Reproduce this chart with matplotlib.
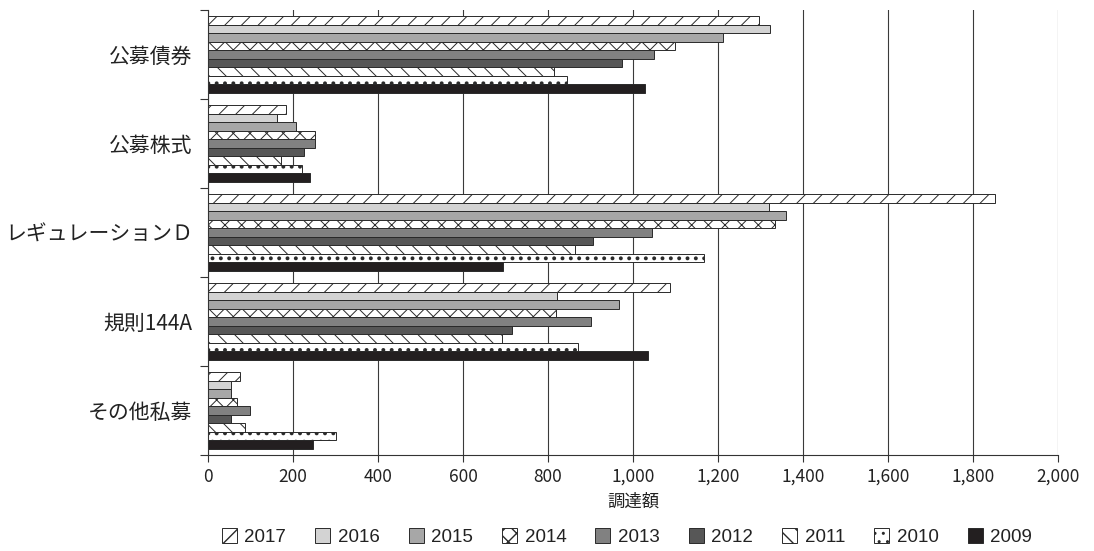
import matplotlib
matplotlib.use("Agg")
import matplotlib.pyplot as plt
from matplotlib.ticker import FuncFormatter

# Funding amount by offering type, 2009-2017
categories = ["公募債券", "公募株式", "レギュレーションＤ", "規則144A", "その他私募"]
years = ["2017", "2016", "2015", "2014", "2013", "2012", "2011", "2010", "2009"]

v2017 = [1297, 184, 1852, 1086, 76]
v2016 = [1322, 162, 1320, 821, 54]
v2015 = [1211, 206, 1361, 966, 54]
v2014 = [1098, 252, 1334, 818, 68]
v2013 = [1050, 252, 1044, 901, 99]
v2012 = [974, 226, 905, 715, 54]
v2011 = [814, 172, 863, 692, 86]
v2010 = [844, 221, 1166, 871, 301]
v2009 = [1028, 239, 693, 1036, 248]

series = [v2017, v2016, v2015, v2014, v2013, v2012, v2011, v2010, v2009]

x_ticks = [0, 200, 400, 600, 800, 1000, 1200, 1400, 1600, 1800, 2000]
x_label = "調達額"

# fill / hatch for each year (hatch line width in points)
styles = [
    dict(color="white", hatch="//", hlw=0.7),
    dict(color="#d3d3d3", hatch=None, hlw=0.7),
    dict(color="#a7a7a7", hatch=None, hlw=0.7),
    dict(color="white", hatch="xx", hlw=0.7),
    dict(color="#818181", hatch=None, hlw=0.7),
    dict(color="#575757", hatch=None, hlw=0.7),
    dict(color="white", hatch="\\\\", hlw=0.7),
    dict(color="white", hatch="..", hlw=1.6),
    dict(color="#231f20", hatch=None, hlw=0.7),
]

plt.rcParams["hatch.color"] = "#2a2a2a"
jp_font = ["Noto Sans CJK JP", "DejaVu Sans"]
plt.rcParams["font.family"] = jp_font

W, H = 1094, 551
fig = plt.figure(figsize=(W / 100, H / 100), dpi=100)
ax = fig.add_axes([208 / W, 1 - 455 / H, 850 / W, 445 / H])

n = len(series)
group = 0.86
h = group / n
for j, (vals, st, yr) in enumerate(zip(series, styles, years)):
    ys = [i + (j - (n - 1) / 2) * h for i in range(len(categories))]
    with plt.rc_context({"hatch.linewidth": st["hlw"]}):
        ax.barh(ys, vals, height=h, color=st["color"], hatch=st["hatch"],
                edgecolor="#2a2a2a", linewidth=0.7, label=yr, zorder=2)

ax.set_xlim(0, 2000)
ax.set_ylim(len(categories) - 0.5, -0.5)

ax.set_xticks(x_ticks)
ax.xaxis.set_major_formatter(FuncFormatter(lambda v, p: f"{int(v):,}"))
ax.tick_params(axis="x", length=5, width=0.8, color="#333333", pad=4,
               labelsize=12.5, labelcolor="#222222")

ax.set_yticks([i - 0.5 for i in range(len(categories) + 1)])
ax.set_yticklabels([])
ax.tick_params(axis="y", which="major", length=6, width=0.8, color="#333333")
ax.set_yticks(range(len(categories)), minor=True)
ax.set_yticklabels(categories, minor=True)
ax.tick_params(axis="y", which="minor", length=0, pad=11, labelsize=15,
               labelcolor="#222222")

ax.xaxis.grid(True, color="#3a3a3a", linewidth=0.8, zorder=0)
ax.set_axisbelow(True)
for s in ("top", "right"):
    ax.spines[s].set_visible(False)
for s in ("left", "bottom"):
    ax.spines[s].set_color("#333333")
    ax.spines[s].set_linewidth(0.8)

ax.set_xlabel(x_label, fontsize=12.5, color="#222222", labelpad=5)

leg = fig.legend(loc="center", bbox_to_anchor=(0.573, 0.025), ncol=n,
                 frameon=False, handlelength=0.8, handleheight=0.8,
                 handletextpad=0.4, columnspacing=1.55,
                 prop=dict(family=["Liberation Sans"], size=13.5))
for t in leg.get_texts():
    t.set_color("#222222")

fig.savefig("out.png", dpi=100)
